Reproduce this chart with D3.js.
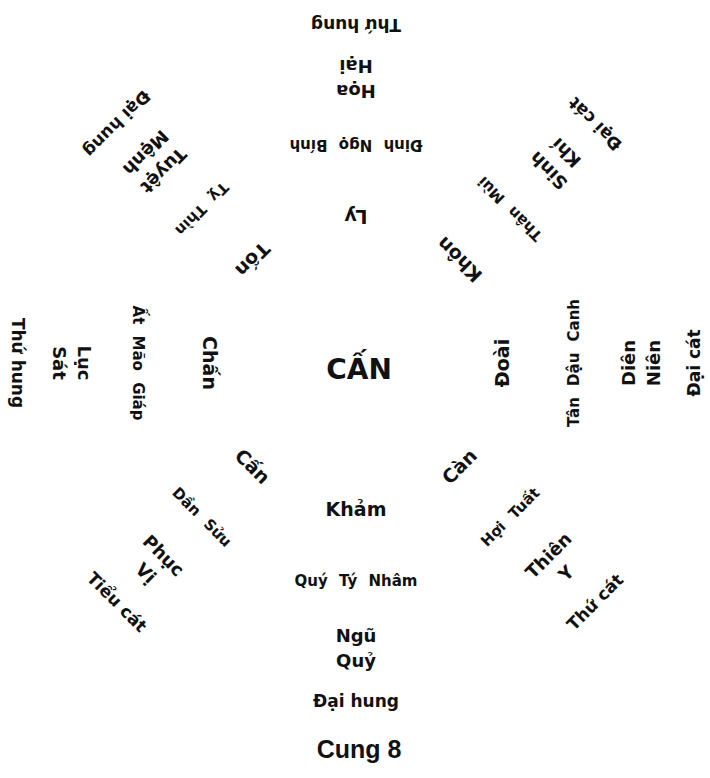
<!DOCTYPE html>
<html>
<head>
<meta charset="utf-8">
<script src="https://cdn.jsdelivr.net/npm/d3@7"></script>
<style>
  html, body { margin: 0; padding: 0; background: #fff; }
  text { font-family: "DejaVu Sans", sans-serif; font-weight: bold; fill: #111; }
</style>
</head>
<body>
<div id="chart"></div>
<script>
// palaces, going clockwise from the bottom (Khảm)
const trigrams = ['Khảm', 'Cấn', 'Chấn', 'Tốn', 'Ly', 'Khôn', 'Đoài', 'Càn'];
const mountains = ['Quý Tý Nhâm', 'Dần Sửu', 'Ất Mão Giáp', 'Tỵ Thìn',
  'Đinh Ngọ Bính', 'Thân Mùi', 'Tân Dậu Canh', 'Hợi Tuất'];
const starFirst = ['Ngũ', 'Phục', 'Lục', 'Tuyệt', 'Họa', 'Sinh', 'Diên', 'Thiên'];
const starSecond = ['Quỷ', 'Vị', 'Sát', 'Mệnh', 'Hại', 'Khí', 'Niên', 'Y'];
const fortunes = ['Đại hung', 'Tiểu cát', 'Thứ hung', 'Đại hung',
  'Thứ hung', 'Đại cát', 'Đại cát', 'Thứ cát'];
const centerLabel = 'CẤN';
const title = 'Cung 8';

const width = 710, height = 778;
const cx = 356, cy = 363;

const svg = d3.select('#chart')
  .append('svg')
  .attr('width', width)
  .attr('height', height);

const angle = d3.scaleLinear().domain([0, trigrams.length]).range([0, 360]);
const ring = d3.scaleOrdinal()
  .domain(['trigram', 'mountain', 'star1', 'star2', 'fortune'])
  .range([146, 218, 272, 297, 338]);
const size = d3.scaleOrdinal()
  .domain(['trigram', 'mountain', 'star1', 'star2', 'fortune'])
  .range([19, 15, 18, 18, 17]);

const rings = [
  ['trigram', trigrams],
  ['mountain', mountains],
  ['star1', starFirst],
  ['star2', starSecond],
  ['fortune', fortunes]
];

const root = svg.append('g').attr('transform', `translate(${cx},${cy})`);

rings.forEach(([key, labels]) => {
  root.selectAll(null)
    .data(labels)
    .enter()
    .append('text')
    .attr('transform', (d, i) => `rotate(${angle(i)}) translate(0,${ring(key)})`)
    .attr('text-anchor', 'middle')
    .attr('dominant-baseline', 'central')
    .style('font-size', size(key) + 'px')
    .style('word-spacing', key === 'mountain' ? '6px' : null)
    .text(d => d);
});

svg.append('text')
  .attr('x', cx + 3)
  .attr('y', cy + 16)
  .attr('text-anchor', 'middle')
  .style('font-size', '28px')
  .text(centerLabel);

svg.append('text')
  .attr('x', cx + 3)
  .attr('y', 758)
  .attr('text-anchor', 'middle')
  .style('font-family', '"Liberation Sans", Arial, sans-serif')
  .style('font-size', '25px')
  .text(title);
</script>
</body>
</html>
